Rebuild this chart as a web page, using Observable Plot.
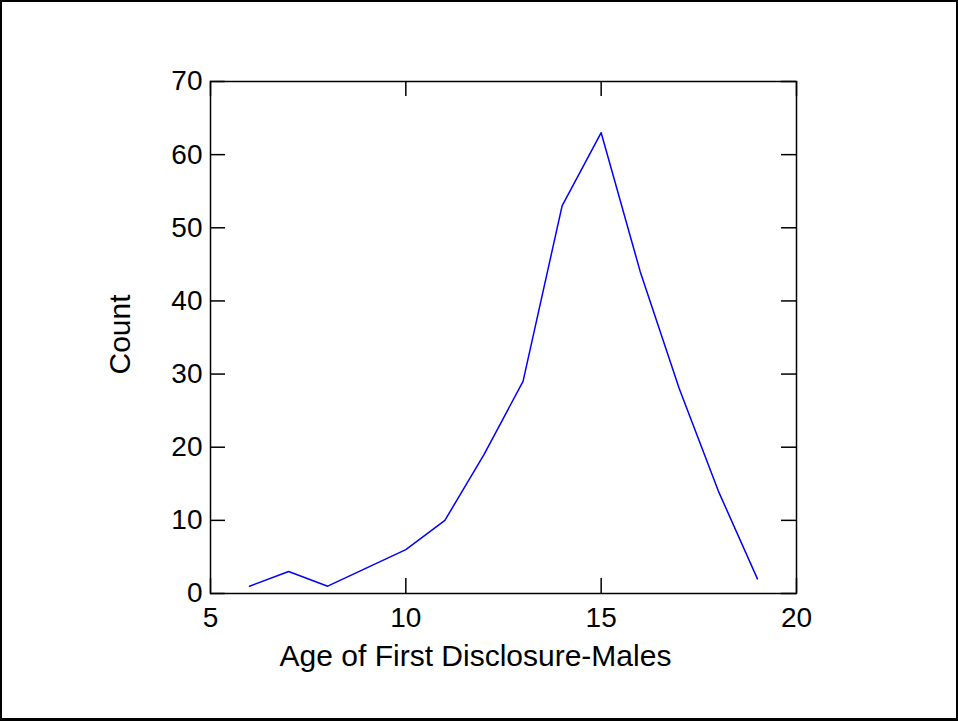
<!DOCTYPE html>
<html>
<head>
<meta charset="utf-8">
<script src="https://cdn.jsdelivr.net/npm/d3@7"></script>
<script src="https://cdn.jsdelivr.net/npm/@observablehq/plot@0.6"></script>
<style>
  html, body { margin: 0; padding: 0; background: #fff; }
  #wrap { position: relative; width: 958px; height: 721px; overflow: hidden; }
  #border { position: absolute; left: 0; top: 0; width: 958px; height: 721px; box-sizing: border-box;
            border: 2px solid #000; border-bottom-width: 3px; pointer-events: none; }
</style>
</head>
<body>
<div id="wrap"><div id="chart"></div><div id="border"></div></div>
<script>
const ages = [6, 7, 8, 9, 10, 11, 12, 13, 14, 15, 16, 17, 18, 19];
const counts = [1, 3, 1, 3.5, 6, 10, 19, 29, 53, 63, 44, 28, 14, 2];
const xTicks = [5, 10, 15, 20];
const yTicks = [0, 10, 20, 30, 40, 50, 60, 70];
const xLabel = ["Age of First Disclosure-Males"];
const yLabel = ["Count"];

const data = ages.map((a, i) => ({age: a, count: counts[i]}));

const W = 958, H = 721;
const mL = 210, mR = 162, mT = 81, mB = 128;
const plotW = W - mL - mR, plotH = H - mT - mB;
const tick = 15;
const font = "Liberation Sans, Arial, Helvetica, sans-serif";

const chart = Plot.plot({
  width: W,
  height: H,
  marginLeft: mL,
  marginRight: mR,
  marginTop: mT,
  marginBottom: mB,
  style: {fontFamily: font, background: "white", color: "black"},
  x: {domain: [5, 20]},
  y: {domain: [0, 70]},
  marks: [
    Plot.axisX(xTicks, {tickSize: 0, tickPadding: 14, fontSize: 28, label: null, fill: "black"}),
    Plot.axisY(yTicks, {tickSize: 0, tickPadding: 8, fontSize: 28, label: null, fill: "black"}),
    Plot.tickX(xTicks, {x: d => d, insetTop: plotH - tick, stroke: "black", strokeWidth: 1.5}),
    Plot.tickX(xTicks, {x: d => d, insetBottom: plotH - tick, stroke: "black", strokeWidth: 1.5}),
    Plot.tickY(yTicks, {y: d => d, insetRight: plotW - tick, stroke: "black", strokeWidth: 1.5}),
    Plot.tickY(yTicks, {y: d => d, insetLeft: plotW - tick, stroke: "black", strokeWidth: 1.5}),
    Plot.frame({stroke: "black", strokeWidth: 1.5}),
    Plot.line(data, {x: "age", y: "count", stroke: "#0000ff", strokeWidth: 1.5}),
    Plot.text(xLabel, {text: d => d, frameAnchor: "bottom", textAnchor: "middle", dx: -28, dy: 72, fontSize: 30, fill: "black"}),
    Plot.text(yLabel, {text: d => d, frameAnchor: "left", textAnchor: "middle", rotate: -90, dx: -90, dy: -3, fontSize: 30, fill: "black"})
  ]
});
document.getElementById("chart").appendChild(chart);
</script>
</body>
</html>
